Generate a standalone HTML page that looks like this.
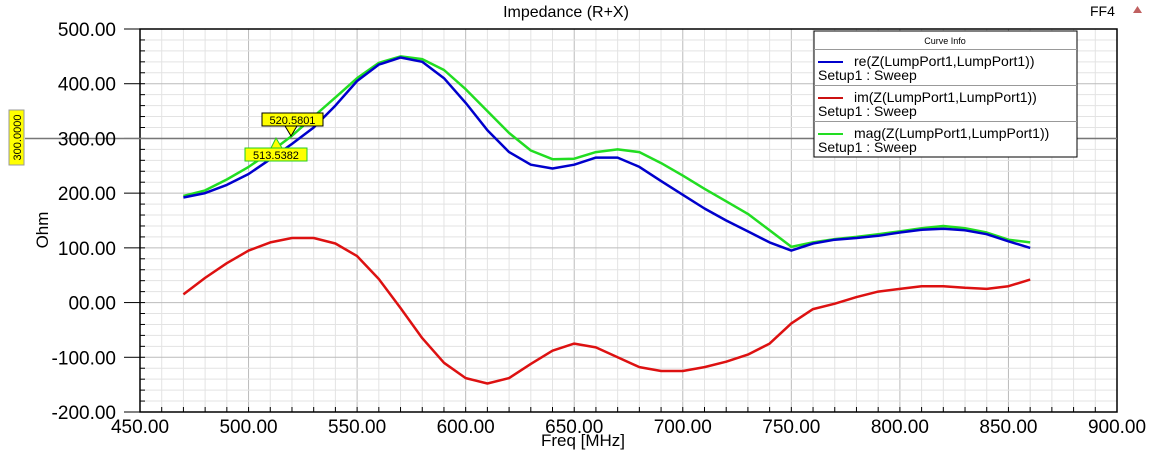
<!DOCTYPE html>
<html><head><meta charset="utf-8"><style>
html,body{margin:0;padding:0;background:#fff;}
svg{display:block;font-family:"Liberation Sans",Arial,sans-serif;}
</style></head><body>
<svg id="s" width="1154" height="455" viewBox="0 0 1154 455" xmlns="http://www.w3.org/2000/svg">
<g id="grid"></g>
<rect x="140" y="29" width="977" height="383" fill="none" stroke="#000" stroke-width="1.5"/>
<line x1="25" y1="138.5" x2="1117" y2="138.5" stroke="#777" stroke-width="1.5"/>
<g id="curves"></g>
<text x="566" y="17" font-size="16" text-anchor="middle">Impedance (R+X)</text>
<text x="1090" y="16" font-size="14">FF4</text>
<polygon points="1133,13 1142,13 1137.5,6" fill="#c06060"/>
<g id="labels" font-size="19"></g>
<text x="48" y="230" font-size="17" text-anchor="middle" transform="rotate(-90 48 230)">Ohm</text>
<text x="583" y="446" font-size="17" text-anchor="middle">Freq [MHz]</text>
<rect x="9" y="110" width="15" height="55" fill="#ffff00" stroke="#999" stroke-width="1"/>
<text x="21" y="137.5" font-size="11" text-anchor="middle" transform="rotate(-90 21 137.5)">300.0000</text>
<rect x="262" y="113" width="61" height="13" fill="#ffff00" stroke="#000" stroke-width="1"/>
<text x="292.5" y="124" font-size="11" text-anchor="middle">520.5801</text>
<polygon points="285,126 297,126 291,136" fill="#ffff00" stroke="#000" stroke-width="1"/>
<rect x="245" y="148" width="62" height="13" fill="#ffff00" stroke="#2c2" stroke-width="1"/>
<text x="276" y="159" font-size="11" text-anchor="middle">513.5382</text>
<polygon points="271,148 282,148 276,138" fill="#ffff00" stroke="#2c2" stroke-width="1"/>
<rect x="814" y="31" width="263" height="126" fill="#fff" stroke="#000" stroke-width="1"/>
<text x="945" y="44" font-size="9" text-anchor="middle">Curve Info</text>
<line x1="814" y1="49.5" x2="1077" y2="49.5" stroke="#999"/>
<line x1="814" y1="85.5" x2="1077" y2="85.5" stroke="#999"/>
<line x1="814" y1="121.5" x2="1077" y2="121.5" stroke="#999"/>
<g font-size="14">
<line x1="818" y1="62" x2="843" y2="62" stroke="#0000cc" stroke-width="2"/>
<text x="854" y="66">re(Z(LumpPort1,LumpPort1))</text><text x="818" y="80">Setup1 : Sweep</text>
<line x1="818" y1="98" x2="843" y2="98" stroke="#cc1111" stroke-width="2"/>
<text x="854" y="102">im(Z(LumpPort1,LumpPort1))</text><text x="818" y="116">Setup1 : Sweep</text>
<line x1="818" y1="134" x2="843" y2="134" stroke="#22dd22" stroke-width="2"/>
<text x="854" y="138">mag(Z(LumpPort1,LumpPort1))</text><text x="818" y="152">Setup1 : Sweep</text>
</g>
</svg>
<script>
var NS="http://www.w3.org/2000/svg";
function px(f){return 140+(f-450)*977/450;}
function py(v){return 29+(500-v)*383/700;}
function el(t,a,p){var e=document.createElementNS(NS,t);for(var k in a)e.setAttribute(k,a[k]);p.appendChild(e);return e;}
var g=document.getElementById("grid");
for(var f=460;f<900;f+=10){var x=px(f);el("line",{x1:x,y1:29,x2:x,y2:412,stroke:f%50==0?"#bbb":"#e3e3e3","stroke-width":1},g);el("line",{x1:x,y1:407,x2:x,y2:412,stroke:"#000"},g);}
for(var v=-180;v<500;v+=20){var y=py(v);el("line",{x1:140,y1:y,x2:1117,y2:y,stroke:v%100==0?"#bbb":"#e3e3e3","stroke-width":1},g);el("line",{x1:140,y1:y,x2:145,y2:y,stroke:"#000"},g);}
for(var v=-200;v<=500;v+=100){el("line",{x1:124,y1:py(v),x2:140,y2:py(v),stroke:"#000"},g);}
var L=document.getElementById("labels");
for(var v=-200;v<=500;v+=100){var t=el("text",{x:116,y:py(v)+7,"text-anchor":"end"},L);t.textContent=(v<0?"-":"")+(Math.abs(v)<100&&v!=0?"0":"")+(v==0?"00":Math.abs(v))+".00";}
for(var f=450;f<=900;f+=50){var t=el("text",{x:px(f),y:433,"text-anchor":"middle"},L);t.textContent=f+".00";}
var re=[192,200,215,235,262,290,320,360,405,435,448,440,410,365,315,275,252,245,252,265,265,248,222,197,172,150,130,110,95,108,115,118,122,128,133,135,132,125,112,100];
var mg=[195,205,225,248,275,305,340,375,410,438,450,445,425,390,350,310,278,262,263,275,280,275,255,232,208,185,162,132,102,110,116,120,125,130,136,140,136,128,115,110];
var im=[15,45,72,95,110,118,118,108,85,43,-10,-65,-110,-138,-148,-138,-112,-88,-75,-82,-100,-118,-125,-125,-118,-108,-95,-75,-38,-12,-2,10,20,25,30,30,27,25,30,42];
var C=document.getElementById("curves");
function draw(d,c){var p=[];for(var i=0;i<d.length;i++)p.push(px(470+10*i).toFixed(1)+","+py(d[i]).toFixed(1));el("polyline",{points:p.join(" "),fill:"none",stroke:c,"stroke-width":2.5,"stroke-linejoin":"round"},C);}
draw(mg,"#22dd22");draw(re,"#0000cc");draw(im,"#dd1111");
</script>
</body></html>
